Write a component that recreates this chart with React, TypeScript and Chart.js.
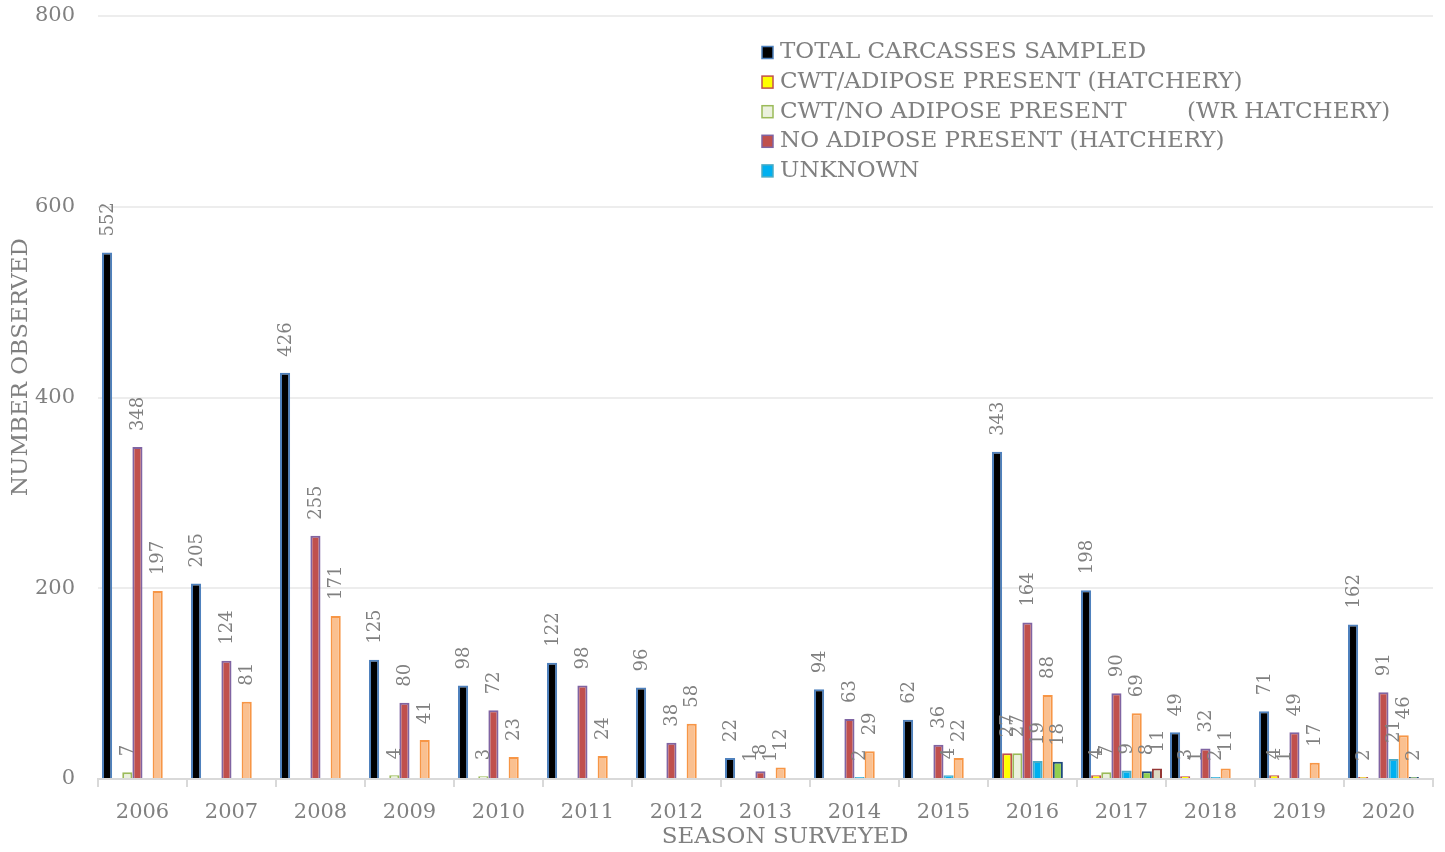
import React, { useEffect, useRef } from 'react';
import { Chart, registerables } from 'chart.js';

Chart.register(...registerables);

const seasons = ['2006', '2007', '2008', '2009', '2010', '2011', '2012', '2013', '2014', '2015', '2016', '2017', '2018', '2019', '2020'];
const totalSampled = [552, 205, 426, 125, 98, 122, 96, 22, 94, 62, 343, 198, 49, 71, 162];
const cwtAdipose = [0, 0, 0, 0, 0, 0, 0, 0, 0, 0, 27, 4, 3, 4, 2];
const cwtNoAdipose = [7, 0, 0, 4, 3, 0, 0, 1, 0, 0, 27, 7, 1, 1, 0];
const noAdipose = [348, 124, 255, 80, 72, 98, 38, 8, 63, 36, 164, 90, 32, 49, 91];
const unknown = [0, 0, 0, 0, 0, 0, 0, 1, 2, 4, 19, 9, 2, 0, 21];
const seriesOrange = [197, 81, 171, 41, 23, 24, 58, 12, 29, 22, 88, 69, 11, 17, 46];
const seriesGreen = [0, 0, 0, 0, 0, 0, 0, 0, 0, 0, 18, 8, 0, 0, 2];
const seriesBeige = [0, 0, 0, 0, 0, 0, 0, 0, 0, 0, 0, 11, 0, 0, 0];
const yTickValues = [0, 200, 400, 600, 800];

const legendNames = [
  'TOTAL CARCASSES SAMPLED',
  'CWT/ADIPOSE PRESENT (HATCHERY)',
  'CWT/NO ADIPOSE PRESENT',
  'NO ADIPOSE PRESENT (HATCHERY)',
  'UNKNOWN',
];

const GRAY = '#808080';
const SERIF = '"DejaVu Serif", serif';

const fills = ['#000000', '#ffff00', '#ebf1de', '#c0504d', '#00b0f0', '#fac090', '#92d050', '#ddd9c3'];
const borders = ['#4f81bd', '#c0504d', '#9bbb59', '#8064a2', '#4bacc6', '#f79646', '#1f497d', '#953735'];

const barLabels = {
  id: 'barLabels',
  afterDatasetsDraw(chart: any) {
    const ctx = chart.ctx;
    ctx.save();
    ctx.font = `18px ${SERIF}`;
    ctx.fillStyle = GRAY;
    chart.data.datasets.forEach((ds: any, i: number) => {
      const meta = chart.getDatasetMeta(i);
      meta.data.forEach((bar: any, j: number) => {
        const v = ds.data[j];
        if (!v) return;
        ctx.save();
        ctx.translate(bar.x + 1, bar.y - 16);
        ctx.rotate(-Math.PI / 2);
        ctx.textAlign = 'left';
        ctx.textBaseline = 'middle';
        ctx.fillText(String(v), 0, 0);
        ctx.restore();
      });
    });
    ctx.restore();
  },
};

const overlay = {
  id: 'overlay',
  afterDraw(chart: any) {
    const ctx = chart.ctx;
    ctx.save();
    ctx.font = `23px ${SERIF}`;
    ctx.fillStyle = GRAY;
    ctx.textBaseline = 'middle';
    legendNames.forEach((name, i) => {
      const y = 52.5 + i * 29.6;
      ctx.fillStyle = fills[i];
      ctx.fillRect(762, y - 6, 11, 12);
      ctx.strokeStyle = borders[i];
      ctx.lineWidth = 1.5;
      ctx.strokeRect(762, y - 6, 11, 12);
      ctx.fillStyle = GRAY;
      ctx.textAlign = 'left';
      ctx.fillText(name, 780, y);
      if (i === 2) ctx.fillText('(WR HATCHERY)', 1187, y);
    });
    // axis titles
    ctx.textAlign = 'center';
    ctx.fillText('SEASON SURVEYED', 785, 837);
    ctx.save();
    ctx.translate(21, 367);
    ctx.rotate(-Math.PI / 2);
    ctx.fillText('NUMBER OBSERVED', 0, 0);
    ctx.restore();
    ctx.restore();
  },
};

export default function App() {
  const ref = useRef<HTMLCanvasElement | null>(null);
  useEffect(() => {
    if (!ref.current) return;
    const series = [totalSampled, cwtAdipose, cwtNoAdipose, noAdipose, unknown, seriesOrange, seriesGreen, seriesBeige];
    const names = [...legendNames, 'SERIES 6', 'SERIES 7', 'SERIES 8'];
    const chart = new Chart(ref.current, {
      type: 'bar',
      data: {
        labels: seasons,
        datasets: series.map((d, i) => ({
          label: names[i],
          data: d,
          backgroundColor: fills[i],
          borderColor: borders[i],
          borderWidth: 2,
          categoryPercentage: 0.91,
          barPercentage: 1.0,
        })),
      },
      options: {
        responsive: true,
        maintainAspectRatio: false,
        animation: false,
        layout: { padding: { top: 16, right: 12, left: 0, bottom: 0 } },
        plugins: { legend: { display: false }, tooltip: { enabled: false } },
        scales: {
          x: {
            afterFit: (s: any) => { s.height = 73; s.paddingLeft = 0; s.paddingRight = 0; },
            grid: { offset: true, drawOnChartArea: false, drawTicks: true, tickLength: 8, color: '#d9d9d9', lineWidth: 2 },
            border: { display: true, color: '#d9d9d9', width: 2 },
            ticks: { color: GRAY, font: { family: SERIF, size: 21 }, padding: 13 },
          },
          y: {
            min: 0,
            max: 800,
            afterFit: (s: any) => { s.width = 98; s.paddingTop = 0; s.paddingBottom = 0; },
            afterBuildTicks: (s: any) => { s.ticks = yTickValues.map((v) => ({ value: v })); },
            grid: { drawTicks: false, color: '#ededed', lineWidth: 2 },
            border: { display: false },
            ticks: { color: GRAY, font: { family: SERIF, size: 21 }, padding: 23 },
          },
        },
      },
      plugins: [barLabels, overlay],
    });
    return () => chart.destroy();
  }, []);
  return (
    <div style={{ position: 'fixed', left: 0, top: 0, width: 1445, height: 852, background: '#fff' }}>
      <canvas ref={ref} />
    </div>
  );
}
